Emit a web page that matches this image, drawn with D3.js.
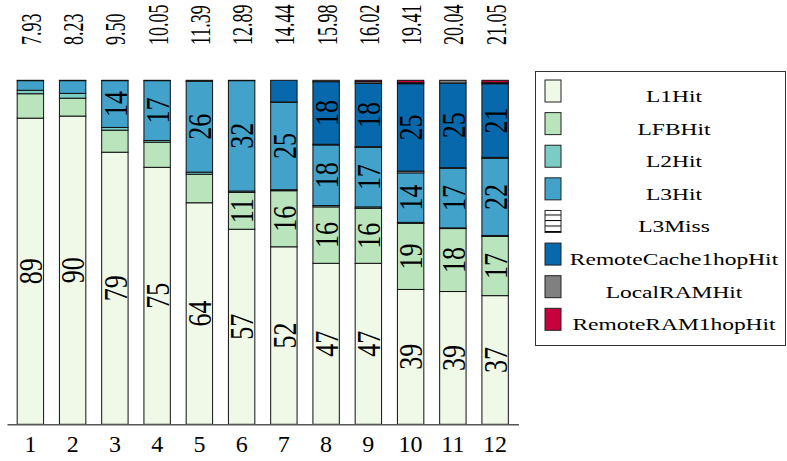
<!DOCTYPE html>
<html>
<head>
<meta charset="utf-8">
<script src="https://cdn.jsdelivr.net/npm/d3@7"></script>
<style>
  html, body { margin: 0; padding: 0; background: #fff; }
  svg { display: block; }
  text { font-family: "Liberation Serif", "DejaVu Serif", serif; fill: #000; }
</style>
</head>
<body>
<svg id="chart" width="787" height="461"></svg>
<script>
const categories = ["1","2","3","4","5","6","7","8","9","10","11","12"];
const totalLabels = ["7.93","8.23","9.50","10.05","11.39","12.89","14.44","15.98","16.02","19.41","20.04","21.05"];
const seriesNames = ["L1Hit","LFBHit","L2Hit","L3Hit","L3Miss","RemoteCache1hopHit","LocalRAMHit","RemoteRAM1hopHit"];
const L1Hit              = [89.0, 89.6, 79.1, 74.7, 64.4, 56.7, 51.6, 46.8, 46.8, 39.2, 38.6, 37.4];
const LFBHit             = [ 7.1,  5.2,  6.4,  7.3,  8.3, 10.7, 16.3, 16.4, 16.0, 19.2, 18.3, 17.2];
const L2Hit              = [ 1.0,  1.4,  0.8,  0.5,  0.6,  0.4,  0.3,  0.4,  0.4,  0.3,  0.2,  0.3];
const L3Hit              = [ 2.8,  3.7, 13.6, 17.4, 26.4, 32.1, 25.4, 17.6, 17.3, 14.4, 17.3, 22.4];
const L3Miss             = [ 0.1,  0.1,  0.1,  0.1,  0.3,  0.1,  0.1,  0.2,  0.2,  0.5,  0.2,  0.3];
const RemoteCache1hopHit = [ 0,    0,    0,    0,    0,    0,    6.3, 18.2, 18.4, 25.4, 24.6, 21.4];
const LocalRAMHit        = [ 0,    0,    0,    0,    0,    0,    0,    0.4,  0.5,  0.3,  0.8,  0.3];
const RemoteRAM1hopHit   = [ 0,    0,    0,    0,    0,    0,    0,    0,    0.4,  0.7,  0,    0.7];
const seriesValues = [L1Hit, LFBHit, L2Hit, L3Hit, L3Miss, RemoteCache1hopHit, LocalRAMHit, RemoteRAM1hopHit];
const colors = ["#f0f9e8","#bae4bc","#7bccc4","#43a2ca","url(#hatch)","#0868ac","#808080","#c8003e"];

const rows = categories.map((c, i) => {
  const r = {cat: c};
  seriesNames.forEach((s, k) => r[s] = seriesValues[k][i]);
  return r;
});

const svg = d3.select("#chart");
const defs = svg.append("defs");
const pat = defs.append("pattern").attr("id","hatch").attr("patternUnits","userSpaceOnUse")
  .attr("width", 8).attr("height", 5.5);
pat.append("rect").attr("width", 8).attr("height", 5.5).attr("fill", "#fff");
pat.append("line").attr("x1",0).attr("x2",8).attr("y1",0.5).attr("y2",0.5).attr("stroke","#000").attr("stroke-width",1);

const x = d3.scaleBand().domain(categories).range([7, 518.5]).paddingInner(0.375).paddingOuter(0.241);
const y = d3.scaleLinear().domain([0, 100]).range([424.3, 80.3]);

const stacked = d3.stack().keys(seriesNames)(rows);

const g = svg.append("g");
stacked.forEach((layer, k) => {
  g.append("g").selectAll("rect")
    .data(layer.filter(d => d[1] - d[0] > 0))
    .join("rect")
    .attr("x", d => x(d.data.cat))
    .attr("width", x.bandwidth())
    .attr("y", d => y(d[1]))
    .attr("height", d => y(d[0]) - y(d[1]))
    .attr("fill", colors[k])
    .attr("stroke", "#111")
    .attr("stroke-width", 1);
});

// value labels inside segments
const labelSx = 1.3;
stacked.forEach((layer, k) => {
  g.append("g").selectAll("text")
    .data(layer.filter(d => d[1] - d[0] >= 10))
    .join("text")
    .attr("transform", d => `translate(${x(d.data.cat) + x.bandwidth()/2},${(y(d[0]) + y(d[1]))/2}) scale(${labelSx},1) rotate(-90)`)
    .attr("text-anchor", "middle")
    .attr("dy", "0.35em")
    .attr("font-size", 26)
    .text(d => Math.round(d[1] - d[0]));
});

// totals on top
svg.append("g").selectAll("text")
  .data(categories)
  .join("text")
  .attr("transform", (c) => `translate(${x(c) + x.bandwidth()/2},45) scale(1.65,1) rotate(-90)`)
  .attr("text-anchor", "start")
  .attr("dy", "0.35em")
  .attr("font-size", 18)
  .text((c, i) => totalLabels[i]);

// x axis
const xAxis = d3.axisBottom(x).tickSize(0).tickPadding(10);
const ax = svg.append("g").attr("transform", "translate(0,424.3)").call(xAxis);
ax.select(".domain").attr("stroke", "#555").attr("stroke-width", 1.5);
ax.selectAll(".tick text").attr("font-size", 24).attr("font-family", "Liberation Serif, serif").attr("dy", "0.72em");

// legend
const legend = svg.append("g");
legend.append("rect").attr("x", 535.5).attr("y", 71.5).attr("width", 250).attr("height", 274)
  .attr("fill", "#fff").attr("stroke", "#333").attr("stroke-width", 1);
const ly = d3.scalePoint().domain(seriesNames).range([80, 308.3]);
const items = legend.selectAll("g.item").data(seriesNames).join("g").attr("class","item");
items.append("rect")
  .attr("x", 545).attr("y", d => ly(d)).attr("width", 16).attr("height", 22)
  .attr("fill", (d, k) => colors[k]).attr("stroke", "#222").attr("stroke-width", 1);
items.append("text")
  .attr("transform", d => `translate(674,${ly(d) + 22}) scale(1.38,1)`)
  .attr("text-anchor", "middle")
  .attr("font-size", 17)
  .text(d => d);
</script>
</body>
</html>
